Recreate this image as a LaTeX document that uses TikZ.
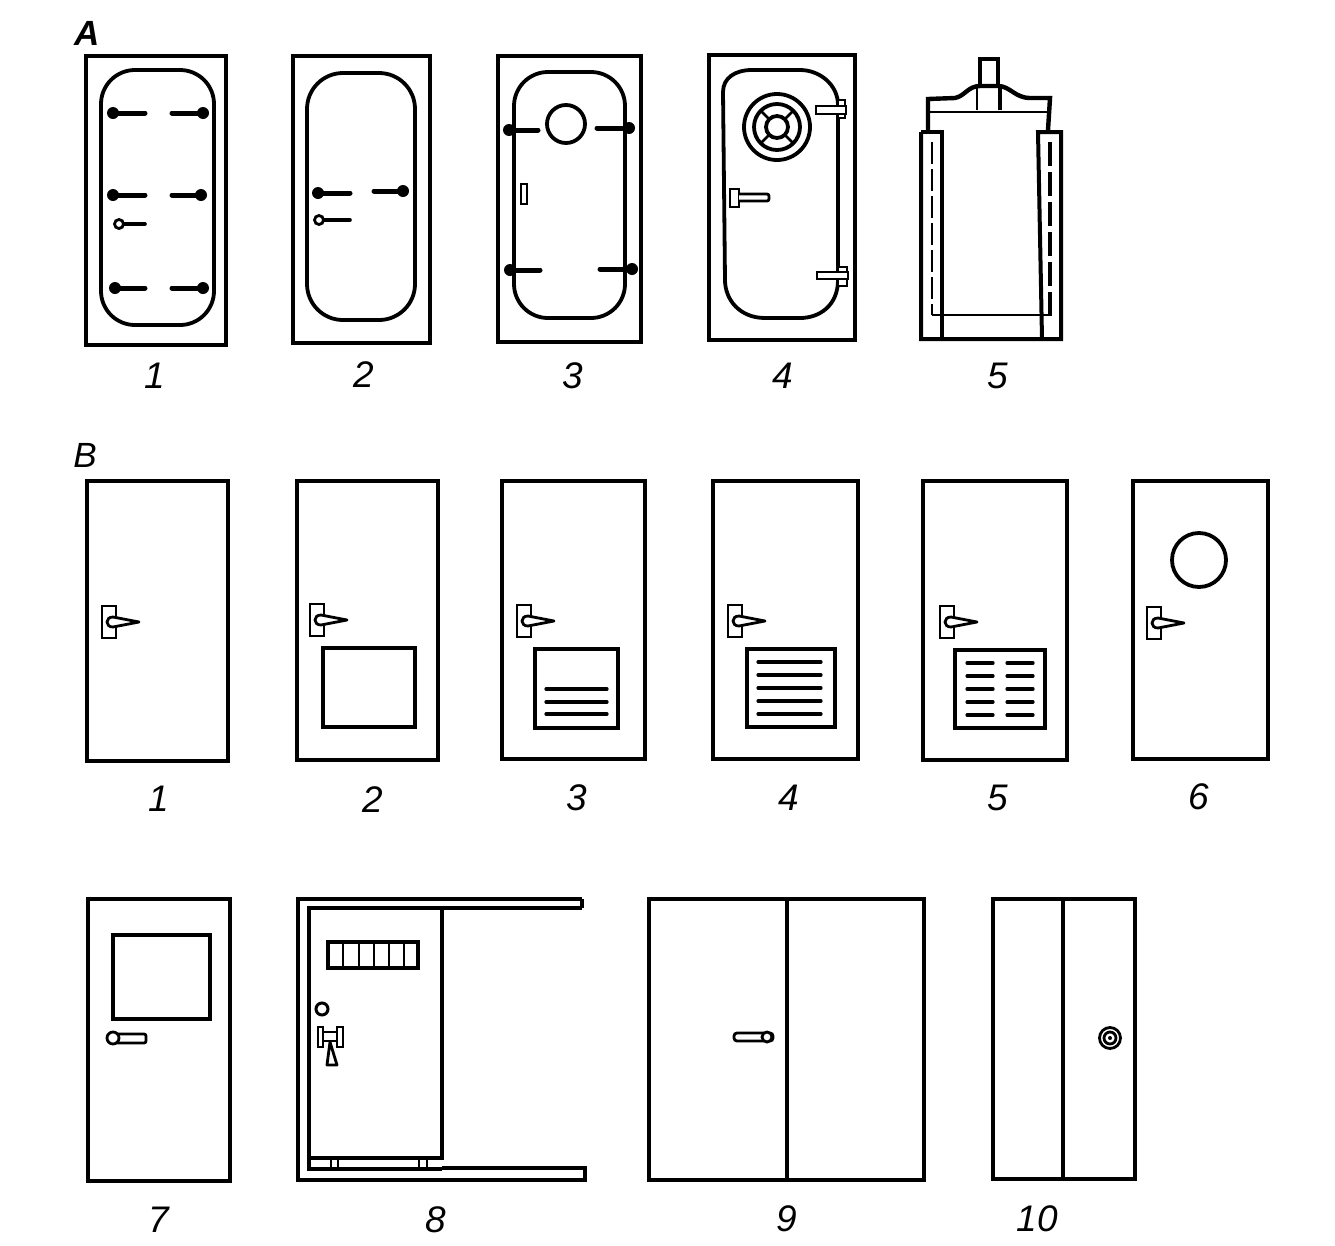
\documentclass[tikz,border=0pt]{standalone}
\usepackage{fontspec}
\setmainfont{Liberation Sans}
\usetikzlibrary{calc}
\tikzset{
    frame/.style={draw=black, line width=4pt, line join=miter},
    gasket/.style={draw=black, line width=3.8pt},
    thinline/.style={draw=black, line width=2.8pt},
    slot/.style={draw=black, line width=3.2pt, line cap=round},
    boltbar/.style={draw=black, line width=5pt, line cap=round},
    number/.style={font=\fontsize{37}{37}\itshape, inner sep=0pt},
    group label/.style={font=\fontsize{35}{35}\itshape, inner sep=0pt},
    lever handle/.pic={
        \draw[thinline, fill=white] (0,0) rectangle (14,32);
        \draw[thinline, fill=white, line join=round] (37,16) -- (11,11) .. controls (3,11) and (3,21) .. (11,21) -- cycle;
    }
}

\begin{document}
\begin{tikzpicture}[x=1pt, y=-1pt]
\useasboundingbox (0,0) rectangle (1335,1245);
\fill[white] (0,0) rectangle (1335,1245);

% group A
\node[group label] (labelA) at (87,33) {\textbf{A}};
\draw[frame] (86,56) rectangle (226,345);
\draw[frame] (293,56) rectangle (430,343);
\draw[frame] (498,56) rectangle (641,342);
\draw[frame] (709,55) rectangle (855,340);

\draw[gasket, rounded corners=34] (101,70) rectangle (214,325);
\draw[gasket, rounded corners=36] (307,73) rectangle (415,320);
\draw[gasket, rounded corners=34] (514,72) rectangle (625,318);

% bolts: ball x / bar end x / y
\foreach \xa/\xb/\ya in {113/145/113, 203/172/113, 113/145/195, 201/172/195, 115/145/288, 203/172/288,
    318/350/193, 403/374/191, 509/538/130, 629/597/128, 510/540/270, 632/600/269} {
    \draw[boltbar] (\xa,\ya) -- (\xb,\ya);
    \fill (\xa,\ya) circle (6);
}
\foreach \xa/\xb/\ya in {119/145/224, 319/350/220} {
    \draw[boltbar, line width=3.6pt] (\xa,\ya) -- (\xb,\ya);
    \draw[thinline, fill=white] (\xa,\ya) circle (4.5);
}

% door 3 of group A
\draw[gasket] (566,124) circle (19);
\draw[thinline] (521,184) rectangle (527,204);

% door 4 of group A
\draw[gasket] (723,92) .. controls (723,78) and (735,70) .. (752,70) -- (800,70)
    .. controls (820,70) and (838,85) .. (838,105) -- (838,280)
    .. controls (838,305) and (820,318) .. (800,318) -- (765,318)
    .. controls (740,318) and (725,300) .. (725,280) -- cycle;
\draw[gasket] (777,127) circle (33);
\draw[gasket] (777,127) circle (23);
\draw[gasket] (777,127) circle (11);
\foreach \ang in {45,135,225,315} {
    \draw[gasket, line width=2.8pt] ($(777,127)+(\ang:11)$) -- ($(777,127)+(\ang:23)$);
}
\draw[thinline, fill=white] (838,100) rectangle (845,118);
\draw[thinline, fill=white] (816,106) rectangle (846,114);
\draw[thinline, fill=white] (838,267) rectangle (847,286);
\draw[thinline, fill=white] (817,272) rectangle (848,279);
\draw[thinline, fill=white] (730,189) rectangle (739,207);
\draw[thinline, fill=white, rounded corners=2] (739,194) -- (769,194) -- (769,201) -- (739,201);

% door 5 of group A
\draw[gasket, line width=4.4pt] (928,130) -- (928,99) -- (955,98) .. controls (965,96) and (968,86) .. (980,86) -- (998,86)
    .. controls (1010,86) and (1015,98) .. (1030,98) -- (1050,98) -- (1048,130);
\draw[thinline] (928,112) -- (1048,112);
\draw[gasket] (980,86) -- (980,59) -- (998,59) -- (998,86);
\draw[thinline] (977,86) -- (977,110);
\draw[gasket] (1000,86) -- (1000,110);
\draw[frame] (921,132) -- (942,132) -- (942,339);
\draw[frame] (921,132) -- (921,339) -- (1061,339) -- (1061,132) -- (1038,132) -- (1042,339);
\draw[thinline] (932,315) -- (1052,315);
\draw[thinline, dash pattern=on 22pt off 5pt] (932,142) -- (932,315);
\draw[gasket, dash pattern=on 24pt off 6pt] (1050,142) -- (1050,315);

% group B
\node[group label] (labelB) at (85,455) {B};
\draw[frame] (87,481) rectangle (228,761);
\draw[frame] (297,481) rectangle (438,760);
\draw[frame] (502,481) rectangle (645,759);
\draw[frame] (713,481) rectangle (858,759);
\draw[frame] (923,481) rectangle (1067,760);
\draw[frame] (1133,481) rectangle (1268,759);

\pic at (102,606) {lever handle};
\pic at (310,604) {lever handle};
\pic at (517,605) {lever handle};
\pic at (728,605) {lever handle};
\pic at (940,606) {lever handle};
\pic at (1147,607) {lever handle};

\draw[frame] (323,648) rectangle (415,727);
\draw[frame] (535,649) rectangle (618,728);
\draw[frame] (747,649) rectangle (835,727);
\draw[frame] (955,650) rectangle (1045,728);

\foreach \ya in {689,702,714} {
    \draw[slot] (546,\ya) -- (607,\ya);
}
\foreach \ya in {662,675,688,701,714} {
    \draw[slot] (758,\ya) -- (821,\ya);
    \draw[slot] (967,\ya+1) -- (993,\ya+1);
    \draw[slot] (1007,\ya+1) -- (1033,\ya+1);
}
\draw[gasket] (1199,560) circle (27);

% third row
\draw[frame] (88,899) rectangle (230,1181);
\draw[frame] (113,935) rectangle (210,1019);
\draw[thinline, fill=white, rounded corners=2] (116,1034) rectangle (146,1043);
\draw[thinline, fill=white] (113,1038) circle (6);

% sliding door on its rail
\draw[frame] (582,899) -- (298,899) -- (298,1180) -- (585,1180) -- (585,1168) -- (442,1168);
\draw[frame] (582,908) -- (309,908) -- (309,1169) -- (442,1169);
\draw[frame] (582,899) -- (582,908);
\draw[frame] (309,908) -- (442,908) -- (442,1158) -- (309,1158);
\draw[thinline] (331,1158) -- (331,1169);
\draw[thinline] (338,1158) -- (338,1169);
\draw[thinline] (419,1158) -- (419,1169);
\draw[thinline] (427,1158) -- (427,1169);
\draw[gasket] (328,942) rectangle (418,968);
\foreach \xa in {343,359,374,389,404} {
    \draw[thinline] (\xa,942) -- (\xa,968);
}
\draw[thinline, line width=3pt] (322,1009) circle (6);
\draw[thinline, fill=white] (318,1027) rectangle (323,1047);
\draw[thinline, fill=white] (337,1027) rectangle (343,1047);
\draw[thinline, fill=white] (323,1032) rectangle (337,1041);
\draw[thinline, fill=white, line join=round] (330,1042) -- (337,1065) -- (327,1065) -- cycle;

\draw[frame] (649,899) rectangle (924,1180);
\draw[frame] (787,899) -- (787,1180);
\draw[thinline, fill=white, rounded corners=3] (734,1033) rectangle (773,1041);
\draw[thinline, fill=white] (767,1037) circle (5);

\draw[frame] (993,899) rectangle (1135,1179);
\draw[frame] (1063,899) -- (1063,1179);
\draw[thinline] (1110,1038) circle (10.5);
\draw[thinline] (1110,1038) circle (6);
\fill (1110,1038) circle (2);

% numbers under the doors
\foreach \nm/\xa/\ya/\txt in {aone/155/376/1, atwo/364/375/2, athree/573/376/3, afour/783/376/4, afive/998/376/5,
    bone/159/799/1, btwo/373/800/2, bthree/577/798/3, bfour/789/798/4, bfive/998/798/5, bsix/1199/797/6,
    bseven/159/1220/7, beight/436/1220/8, bnine/787/1219/9, bten/1037/1219/10} {
    \node[number] (\nm) at (\xa,\ya) {\txt};
}
\end{tikzpicture}
\end{document}
